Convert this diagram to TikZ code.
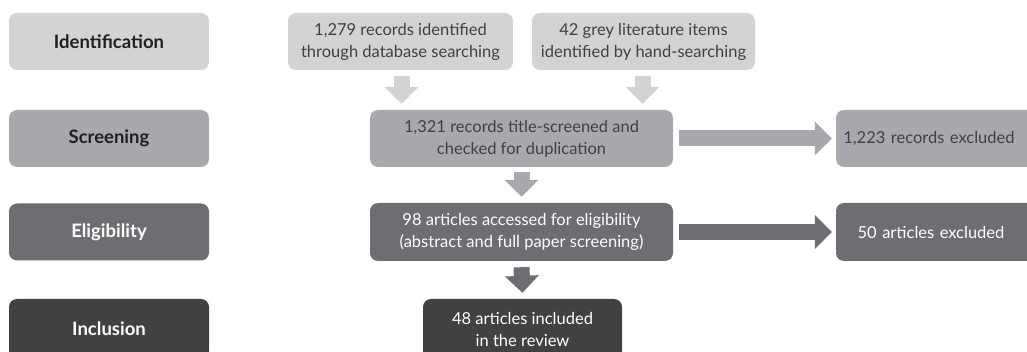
\documentclass[tikz,border=0pt]{standalone}
\usepackage{fontspec}
\setmainfont{Lato}
\usetikzlibrary{arrows.meta}
\definecolor{c1}{HTML}{D1D3D4}
\definecolor{c2}{HTML}{A7A9AC}
\definecolor{c3}{HTML}{6D6E71}
\definecolor{c4}{HTML}{414042}
\definecolor{tdark}{HTML}{231F20}
\begin{document}
\begin{tikzpicture}[x=1pt,y=-1pt,
  box/.style={rounded corners=8pt, inner sep=0pt, align=center,
    font=\fontsize{16.5}{22}\selectfont},
  lab/.style={box, minimum width=200pt, minimum height=57pt,
    font=\fontsize{18.5}{22}\selectfont\bfseries},
  blk/.style={line width=16pt, -{Triangle[width=33pt,length=17pt]}},
]
\useasboundingbox (0,0) rectangle (1027,352);
\begin{scope}
\clip (0,0) rectangle (1027,352);
% stage labels
\node[lab, fill=c1, text=tdark] (idl) at (109,41.5) {Identification};
\node[lab, fill=c2, text=tdark] (scl) at (109,138.5) {Screening};
\node[lab, fill=c3, text=white] (ell) at (109,232) {Eligibility};
\node[lab, fill=c4, text=white, minimum height=60pt] (inl) at (109,329) {Inclusion};
% flow boxes
\node[box, fill=c1, text=c4, minimum width=225pt, minimum height=57pt] (rec1) at (400.5,41.5)
  {1,279 records identified\\through database searching};
\node[box, fill=c1, text=c4, minimum width=223pt, minimum height=57pt] (rec2) at (643.5,41.5)
  {42 grey literature items\\identified by hand-searching};
\node[box, fill=c2, text=c4, minimum width=303pt, minimum height=57pt] (scr) at (521.5,138.5)
  {1,321 records title-screened and\\checked for duplication};
\node[box, fill=c2, text=c4, minimum width=200pt, minimum height=57pt, text width=200pt] (exc1) at (936,138.5)
  {\hspace*{-14pt}1,223 records excluded};
\node[box, fill=c3, text=white, minimum width=303pt, minimum height=58pt] (elg) at (521.5,232)
  {98 articles accessed for eligibility\\(abstract and full paper screening)};
\node[box, fill=c3, text=white, minimum width=200pt, minimum height=58pt, text width=200pt] (exc2) at (936,232)
  {\hspace*{-10pt}50 articles excluded};
\node[box, fill=c4, text=white, minimum width=199pt, minimum height=60pt] (inc) at (522.5,329)
  {48 articles included\\in the review};
% arrows
\draw[blk, c1] ([xshift=1pt,yshift=-6pt]rec1.south) -- ([xshift=1pt,yshift=6pt]rec1.south |- scr.north);
\draw[blk, c1] ([xshift=-1pt,yshift=-6pt]rec2.south) -- ([xshift=-1pt,yshift=6pt]rec2.south |- scr.north);
\draw[blk, c2] ([yshift=-5pt]scr.south) -- ([yshift=6pt]elg.north);
\draw[blk, c3] ([yshift=-6pt]elg.south) -- ([yshift=6pt]inc.north);
\draw[blk, c2] ([xshift=6pt]scr.east) -- ([xshift=-4pt]exc1.west);
\draw[blk, c3] ([xshift=6pt]elg.east) -- ([xshift=-4pt]exc2.west);
\end{scope}
\end{tikzpicture}
\end{document}
